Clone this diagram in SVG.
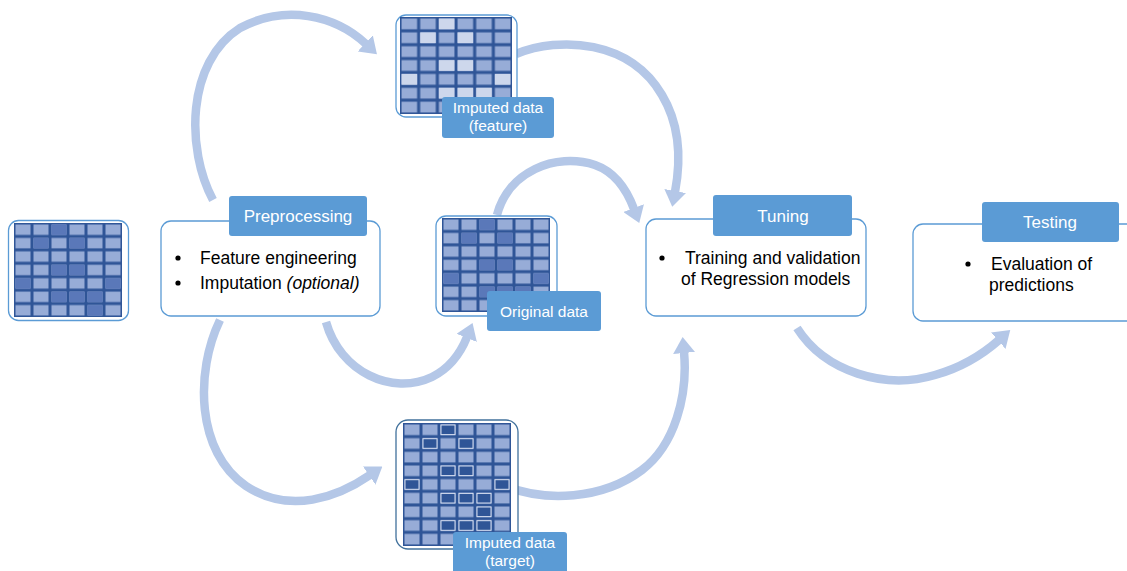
<svg xmlns="http://www.w3.org/2000/svg" xmlns:xlink="http://www.w3.org/1999/xlink" width="1127" height="571" viewBox="0 0 1127 571">
<style>
.arrow{fill:none;stroke:#b4c7e7;stroke-width:8.5;marker-end:url(#ah)}
.box{fill:#fff;stroke:#5b9bd5;stroke-width:1.3}
.gbox{fill:#fff;stroke:#5b9bd5;stroke-width:1.3}
.gboxd{fill:#fff;stroke:#41719c;stroke-width:1.3}
.hdr{fill:#5b9bd5}
.ht{font-family:"Liberation Sans",Arial,sans-serif;font-size:17px;fill:#fff;text-anchor:middle}
.lt{font-family:"Liberation Sans",Arial,sans-serif;font-size:15.5px;fill:#fff;text-anchor:middle}
.bt{font-family:"Liberation Sans",Arial,sans-serif;font-size:17.5px;fill:#000}
.bg{fill:#2f5597}
.dk{fill:#5a78b9}
.vl{fill:#cdd7ec}
.td{fill:#2f5597;stroke:#d6def0;stroke-width:1}
</style>
<defs>
<marker id="ah" markerUnits="userSpaceOnUse" markerWidth="16" markerHeight="22" viewBox="0 0 16 22" refX="1" refY="11" orient="auto">
<path d="M0,0 L16,11 L0,22 z" fill="#b4c7e7"/>
</marker>
<pattern id="p7" patternUnits="userSpaceOnUse" x="0" y="0" width="18" height="13.43">
<rect x="1.5" y="1.5" width="15" height="10.4" fill="#97acd7"/>
</pattern>
<pattern id="p9" patternUnits="userSpaceOnUse" x="0" y="0" width="18" height="13.67">
<rect x="1.5" y="1.5" width="15" height="10.6" fill="#97acd7"/>
</pattern>
<g id="g7">
<rect class="bg" x="0" y="0" width="108" height="94"/>
<rect x="0" y="0" width="108" height="94" fill="url(#p7)"/>
</g>
<g id="orig">
<use xlink:href="#g7"/>
<rect class="dk" x="37.5" y="1.5" width="15" height="10.4"/>
<rect class="dk" x="19.5" y="14.9" width="15" height="10.4"/>
<rect class="dk" x="55.5" y="14.9" width="15" height="10.4"/>
<rect class="dk" x="37.5" y="41.8" width="15" height="10.4"/>
<rect class="dk" x="55.5" y="41.8" width="15" height="10.4"/>
<rect class="dk" x="1.5" y="55.2" width="15" height="10.4"/>
<rect class="dk" x="91.5" y="55.2" width="15" height="10.4"/>
<rect class="dk" x="37.5" y="68.6" width="15" height="10.4"/>
<rect class="dk" x="55.5" y="68.6" width="15" height="10.4"/>
<rect class="dk" x="73.5" y="68.6" width="15" height="10.4"/>
<rect class="dk" x="73.5" y="82.1" width="15" height="10.4"/>
</g>
</defs>

<g id="connectors">
<path class="arrow" d="M 213 200 C 186 150, 186 62, 240 28 C 285 4, 335 15, 366 44"/>
<path class="arrow" d="M 516 54 C 560 36, 630 40, 662 95 C 680 125, 681 160, 675 192"/>
<path class="arrow" d="M 497 215 C 508 172, 555 152, 595 165 C 612 171, 625 185, 634 209"/>
<path class="arrow" d="M 326 322 C 340 372, 392 396, 432 377 C 450 368, 461 352, 467 337"/>
<path class="arrow" d="M 220 320 C 195 372, 196 452, 246 486 C 290 515, 338 497, 370 475"/>
<path class="arrow" d="M 505 486 C 545 502, 602 500, 642 470 C 675 445, 688 395, 684 352"/>
<path class="arrow" d="M 797 328 C 825 372, 885 390, 935 375 C 960 368, 982 355, 999 340"/>
</g>

<g id="input-data">
<rect class="gbox" x="8.5" y="220.5" width="120" height="100" rx="10"/>
<use xlink:href="#orig" transform="translate(14,223)"/>
</g>

<g id="preprocessing">
<rect class="box" x="161" y="221" width="219" height="95" rx="10"/>
<rect class="hdr" x="229" y="196" width="138" height="40" rx="3"/>
<text class="ht" x="298" y="222">Preprocessing</text>
<circle cx="178" cy="258" r="2.6" fill="#000"/>
<text class="bt" x="200" y="264">Feature engineering</text>
<circle cx="178" cy="283" r="2.6" fill="#000"/>
<text class="bt" x="200" y="289">Imputation <tspan font-style="italic">(optional)</tspan></text>
</g>

<g id="imputed-feature">
<rect class="gbox" x="396" y="15" width="121" height="102" rx="10"/>
<g transform="translate(400,17) scale(1.037,1.032)">
<use xlink:href="#g7"/>
<rect class="vl" x="37.5" y="1.5" width="15" height="10.4"/>
<rect class="vl" x="19.5" y="14.9" width="15" height="10.4"/>
<rect class="vl" x="55.5" y="14.9" width="15" height="10.4"/>
<rect class="vl" x="37.5" y="41.8" width="15" height="10.4"/>
<rect class="vl" x="55.5" y="41.8" width="15" height="10.4"/>
<rect class="vl" x="1.5" y="55.2" width="15" height="10.4"/>
<rect class="vl" x="91.5" y="55.2" width="15" height="10.4"/>
<rect class="vl" x="37.5" y="68.6" width="15" height="10.4"/>
<rect class="vl" x="55.5" y="68.6" width="15" height="10.4"/>
<rect class="vl" x="73.5" y="68.6" width="15" height="10.4"/>
<rect class="vl" x="73.5" y="82.1" width="15" height="10.4"/>
</g>
<rect class="hdr" x="442" y="97" width="112" height="41" rx="3"/>
<text class="lt" x="498" y="113">Imputed data</text>
<text class="lt" x="498" y="131">(feature)</text>
</g>

<g id="original-data">
<rect class="gbox" x="436" y="216" width="121" height="100" rx="10"/>
<use xlink:href="#orig" transform="translate(442,218)"/>
<rect class="hdr" x="487" y="291" width="114" height="40" rx="3"/>
<text class="lt" x="544" y="316.5" font-size="16">Original data</text>
</g>

<g id="imputed-target">
<rect class="gboxd" x="396" y="420" width="122" height="129" rx="12"/>
<g transform="translate(403,423)">
<rect class="bg" x="0" y="0" width="108" height="123"/>
<rect x="0" y="0" width="108" height="123" fill="url(#p9)"/>
<rect class="td" x="38" y="2" width="14" height="9.6"/>
<rect class="td" x="20" y="15.7" width="14" height="9.6"/>
<rect class="td" x="56" y="15.7" width="14" height="9.6"/>
<rect class="td" x="38" y="43" width="14" height="9.6"/>
<rect class="td" x="56" y="43" width="14" height="9.6"/>
<rect class="td" x="2" y="56.7" width="14" height="9.6"/>
<rect class="td" x="92" y="56.7" width="14" height="9.6"/>
<rect class="td" x="38" y="70.4" width="14" height="9.6"/>
<rect class="td" x="56" y="70.4" width="14" height="9.6"/>
<rect class="td" x="74" y="70.4" width="14" height="9.6"/>
<rect class="td" x="74" y="84" width="14" height="9.6"/>
<rect class="td" x="38" y="97.7" width="14" height="9.6"/>
<rect class="td" x="56" y="97.7" width="14" height="9.6"/>
<rect class="td" x="74" y="97.7" width="14" height="9.6"/>
</g>
<rect class="hdr" x="453" y="532" width="114" height="46" rx="3"/>
<text class="lt" x="510" y="548">Imputed data</text>
<text class="lt" x="510" y="566">(target)</text>
</g>

<g id="tuning">
<rect class="box" x="646" y="219" width="220" height="97" rx="10"/>
<rect class="hdr" x="713" y="195" width="139" height="41" rx="3"/>
<text class="ht" x="783" y="222">Tuning</text>
<circle cx="662" cy="258" r="2.6" fill="#000"/>
<text class="bt" x="685" y="264">Training and validation</text>
<text class="bt" x="681" y="285">of Regression models</text>
</g>

<g id="testing">
<rect class="box" x="913" y="224" width="230" height="97" rx="10"/>
<rect class="hdr" x="982" y="202" width="137" height="40" rx="3"/>
<text class="ht" x="1050" y="228">Testing</text>
<circle cx="968" cy="264" r="2.6" fill="#000"/>
<text class="bt" x="991" y="270">Evaluation of</text>
<text class="bt" x="989" y="291">predictions</text>
</g>
</svg>
